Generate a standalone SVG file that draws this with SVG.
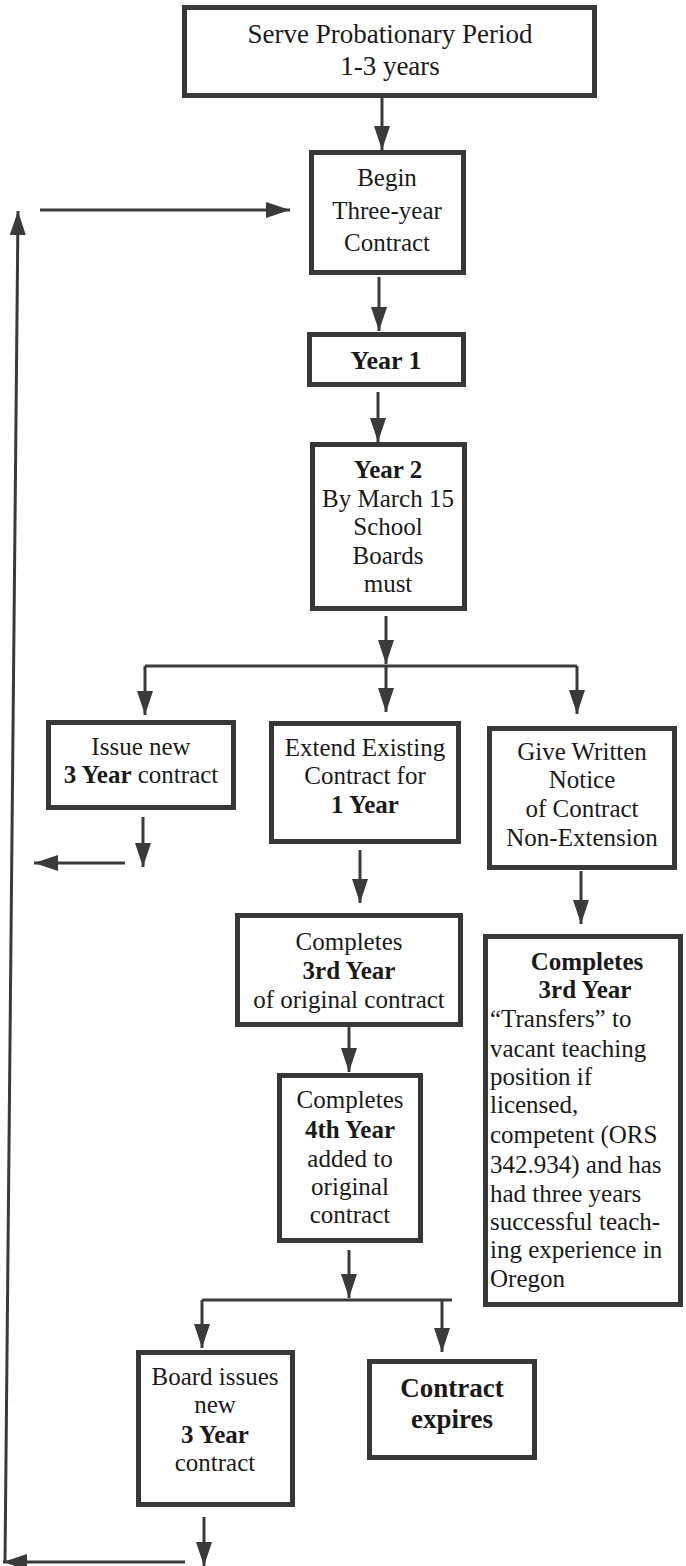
<svg xmlns="http://www.w3.org/2000/svg" width="686" height="1566" viewBox="0 0 686 1566" font-family="Liberation Serif, DejaVu Serif, serif">
<defs>
<marker id="ah" markerUnits="userSpaceOnUse" markerWidth="24" markerHeight="16" refX="24" refY="8" orient="auto">
<path d="M0,0 L24,8 L0,16 z" fill="#3a3a3a"/>
</marker>
</defs>
<style>
.box{fill:#fff;stroke:#383838;stroke-width:5}
.t{font-size:25px;fill:#1a1a1a;text-anchor:middle}
.l{text-anchor:start}
.b{font-weight:bold}
.c{fill:none;stroke:#3a3a3a;stroke-width:3}
.ca{fill:none;stroke:#3a3a3a;stroke-width:3;marker-end:url(#ah)}
</style>
<rect width="686" height="1566" fill="#fff"/>
<g id="connectors">
<line class="ca" x1="382" y1="98" x2="382" y2="150"/>
<line class="ca" x1="40" y1="210" x2="290" y2="210"/>
<line class="ca" x1="5" y1="1562" x2="18" y2="211"/>
<line class="ca" x1="379" y1="277" x2="379" y2="331"/>
<line class="ca" x1="378" y1="392" x2="378" y2="442"/>
<line class="ca" x1="386" y1="616" x2="386" y2="664"/>
<polyline class="c" points="145,666 577,666"/>
<line class="ca" x1="145" y1="666" x2="145" y2="715"/>
<line class="ca" x1="386" y1="666" x2="386" y2="712"/>
<line class="ca" x1="577" y1="666" x2="577" y2="714"/>
<line class="ca" x1="143" y1="817" x2="143" y2="867"/>
<line class="ca" x1="125" y1="863" x2="34" y2="863"/>
<line class="ca" x1="360" y1="850" x2="360" y2="903"/>
<line class="ca" x1="581" y1="871" x2="581" y2="924"/>
<line class="ca" x1="349" y1="1027" x2="349" y2="1072"/>
<line class="ca" x1="349" y1="1250" x2="349" y2="1298"/>
<polyline class="c" points="202,1300 452,1300"/>
<line class="ca" x1="202" y1="1300" x2="202" y2="1348"/>
<line class="ca" x1="442" y1="1300" x2="442" y2="1352"/>
<line class="ca" x1="204" y1="1517" x2="204" y2="1566"/>
<line class="ca" x1="185" y1="1562" x2="3" y2="1562"/>
</g>
<g id="n-probation">
<rect class="box" x="184.5" y="7.5" width="410" height="88"/>
<text class="t" x="390" y="43" font-family="Liberation Serif" style="font-size:27px">Serve Probationary Period</text>
<text class="t" x="390" y="75" font-family="Liberation Serif" style="font-size:27px">1-3 years</text>
</g>
<g id="n-begin" font-family="Liberation Serif">
<rect class="box" x="311.5" y="152.5" width="152" height="120"/>
<text class="t" x="387" y="186">Begin</text>
<text class="t" x="387" y="219">Three-year</text>
<text class="t" x="387" y="251">Contract</text>
</g>
<g id="n-year1" font-family="Liberation Serif">
<rect class="box" x="309.5" y="334.5" width="154" height="50"/>
<text class="t b" x="386" y="369" style="font-size:26px">Year 1</text>
</g>
<g id="n-year2" font-family="Liberation Serif">
<rect class="box" x="312.5" y="444.5" width="152" height="164"/>
<text class="t b" x="388" y="478">Year 2</text>
<text class="t" x="388" y="507">By March 15</text>
<text class="t" x="388" y="535">School</text>
<text class="t" x="388" y="564">Boards</text>
<text class="t" x="388" y="592">must</text>
</g>
<g id="n-issue" font-family="Liberation Serif">
<rect class="box" x="48.5" y="722.5" width="185" height="85"/>
<text class="t" x="141" y="755">Issue new</text>
<text class="t" x="141" y="783"><tspan class="b">3 Year</tspan> contract</text>
</g>
<g id="n-extend" font-family="Liberation Serif">
<rect class="box" x="271.5" y="723.5" width="187" height="118"/>
<text class="t" x="365" y="756">Extend Existing</text>
<text class="t" x="365" y="784">Contract for</text>
<text class="t b" x="365" y="813">1 Year</text>
</g>
<g id="n-notice" font-family="Liberation Serif">
<rect class="box" x="489.5" y="728.5" width="185" height="139"/>
<text class="t" x="582" y="760">Give Written</text>
<text class="t" x="582" y="788">Notice</text>
<text class="t" x="582" y="817">of Contract</text>
<text class="t" x="582" y="846">Non-Extension</text>
</g>
<g id="n-third" font-family="Liberation Serif">
<rect class="box" x="237.5" y="915.5" width="223" height="109"/>
<text class="t" x="349" y="950">Completes</text>
<text class="t b" x="349" y="979">3rd Year</text>
<text class="t" x="349" y="1008">of original contract</text>
</g>
<g id="n-fourth" font-family="Liberation Serif">
<rect class="box" x="279.5" y="1075.5" width="141" height="165"/>
<text class="t" x="350" y="1108">Completes</text>
<text class="t b" x="350" y="1138">4th Year</text>
<text class="t" x="350" y="1167">added to</text>
<text class="t" x="350" y="1195">original</text>
<text class="t" x="350" y="1223">contract</text>
</g>
<g id="n-transfer" font-family="Liberation Serif">
<rect class="box" x="485.5" y="936.5" width="195" height="368"/>
<text class="t b" x="587" y="970">Completes</text>
<text class="t b" x="585" y="998">3rd Year</text>
<text class="t l" x="490" y="1027">“Transfers” to</text>
<text class="t l" x="490" y="1057">vacant teaching</text>
<text class="t l" x="490" y="1085">position if</text>
<text class="t l" x="490" y="1113">licensed,</text>
<text class="t l" x="490" y="1143">competent (ORS</text>
<text class="t l" x="490" y="1173">342.934) and has</text>
<text class="t l" x="490" y="1202">had three years</text>
<text class="t l" x="490" y="1230">successful teach-</text>
<text class="t l" x="490" y="1258">ing experience in</text>
<text class="t l" x="490" y="1287">Oregon</text>
</g>
<g id="n-board" font-family="Liberation Serif">
<rect class="box" x="138.5" y="1352.5" width="154" height="152"/>
<text class="t" x="215" y="1385">Board issues</text>
<text class="t" x="215" y="1413">new</text>
<text class="t b" x="215" y="1443">3 Year</text>
<text class="t" x="215" y="1471">contract</text>
</g>
<g id="n-expires" font-family="Liberation Serif">
<rect class="box" x="369.5" y="1361.5" width="165" height="96"/>
<text class="t b" x="452" y="1397" style="font-size:27px">Contract</text>
<text class="t b" x="452" y="1428" style="font-size:27px">expires</text>
</g>
</svg>
